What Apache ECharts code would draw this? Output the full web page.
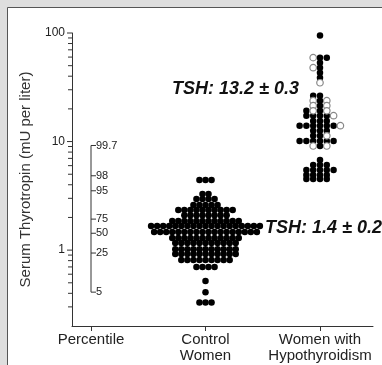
<!DOCTYPE html>
<html lang="en">
<head>
<meta charset="UTF-8" />
<title>Serum Thyrotropin</title>
<script src="https://cdn.jsdelivr.net/npm/echarts@6/dist/echarts.min.js"></script>
</head>
<body style="margin:0">
<div id="chart" style="width:382px;height:365px"></div>
<script>
// categories on the x axis (positions 0, 1, 2)
const categories = ['Percentile', 'Control\nWomen', 'Women with\nHypothyroidism'];
const yTickLabels = [1, 10, 100];

// control women: one row per bin -> TSH value, number of dots
const controlValues = [4.43, 3.29, 2.96, 2.60, 2.34, 2.10, 1.85, 1.67, 1.47, 1.29, 1.16, 1.02, 0.92, 0.81, 0.70, 0.52, 0.41, 0.33];
const controlCounts = [3, 2, 4, 5, 10, 8, 12, 19, 18, 12, 11, 11, 11, 9, 4, 1, 1, 3];

// women with hypothyroidism: F = filled dot, O = open dot, 7 slots centred on the category
const hypoValues = [94.6, 59.3, 53.3, 47.9, 43.1, 38.7, 34.8,
  26.4, 23.8, 21.4, 19.2, 17.3, 15.5, 14.0, 12.6, 11.3, 10.1, 9.1,
  6.78, 6.09, 5.48, 4.93, 4.52];
const hypoRows = ['...F...', '..OFF..', '...F...', '..OF...', '...F...', '...F...', '...O...',
  '..FF...', '..OFO..', '..OFO..', '.FOFO..', '.FFFFO.', '..FFF..', 'FFFFFFO', '..FFF..', '..FFO..', 'FFFFFF.', '..OFO..',
  '...F...', '..FFF..', '.FFFFF.', '.FFFF..', '.FFFF..'];

// percentile bracket
const percentileValues = [9.2, 4.84, 3.52, 1.93, 1.43, 0.94, 0.41];
const percentileLabels = ['99.7', '98', '95', '75', '50', '25', '5'];

const font = 'Liberation Sans';
const xMin = -0.166, xMax = 2.463;
const ctrlStep = 0.0528, hypoStep = 0.0594;

let controlData = [];
controlValues.forEach((v, i) => {
  let n = controlCounts[i];
  for (let j = 0; j < n; j++) controlData.push([1 + (j - (n - 1) / 2) * ctrlStep, v]);
});

let hypoFilled = [], hypoOpen = [];
hypoValues.forEach((v, i) => {
  hypoRows[i].split('').forEach((c, k) => {
    let pt = [2 + (k - 3) * hypoStep, v];
    if (c === 'F') hypoFilled.push(pt);
    if (c === 'O') hypoOpen.push(pt);
  });
});

// log axis ticks (majors + 2..9 minors)
let yTicks = [];
[0.1, 1, 10].forEach((d) => {
  for (let k = 1; k <= 9; k++) {
    let v = +(k * d).toFixed(3);
    if (v > 0.2 && v < 100) yTicks.push([xMin, v, k === 1 ? 1 : 0]);
  }
});
yTicks.push([xMin, 100, 1]);

let chart = echarts.init(document.getElementById('chart'));
chart.setOption({
  backgroundColor: '#dedede',
  animation: false,
  graphic: [
    { type: 'rect', z: -10, shape: { x: 7.5, y: 7.5, width: 400, height: 400 },
      style: { fill: '#fff', stroke: '#555', lineWidth: 1 } },
    { type: 'text', z: 100, left: 172, top: 80,
      style: { text: 'TSH: 13.2 \u00b1 0.3', font: 'italic bold 18px ' + font, fill: '#111' } },
    { type: 'text', z: 100, left: 265, top: 219,
      style: { text: 'TSH: 1.4 \u00b1 0.2', font: 'italic bold 18px ' + font, fill: '#111' } }
  ],
  grid: { left: 72, right: 9, top: 33, bottom: 39 },
  xAxis: {
    type: 'value', min: xMin, max: xMax,
    splitLine: { show: false },
    axisLine: { lineStyle: { color: '#333' } },
    axisTick: { customValues: [0, 1, 2], length: 5, lineStyle: { color: '#333' } },
    axisLabel: {
      customValues: [0, 1, 2],
      formatter: (v) => categories[Math.round(v)],
      fontFamily: font, fontSize: 15, color: '#222', lineHeight: 16, margin: 6
    }
  },
  yAxis: {
    type: 'log', logBase: 10, min: 0.2, max: 100,
    name: 'Serum Thyrotropin (mU per liter)',
    nameLocation: 'middle', nameGap: 39,
    nameTextStyle: { fontFamily: font, fontSize: 15, color: '#333' },
    splitLine: { show: false },
    axisLine: { show: true, onZero: false, lineStyle: { color: '#333' } },
    axisTick: { show: false },
    axisLabel: {
      fontFamily: font, fontSize: 12, color: '#222', margin: 7,
      formatter: (v) => (yTickLabels.includes(Math.round(v * 1000) / 1000) ? String(Math.round(v)) : '')
    }
  },
  series: [
    {
      type: 'custom', silent: true, clip: false, data: yTicks,
      renderItem: (params, api) => {
        let p = api.coord([api.value(0), api.value(1)]);
        let len = api.value(2) ? 5 : 4;
        return { type: 'line', shape: { x1: p[0] - len, y1: p[1], x2: p[0], y2: p[1] },
          style: { stroke: '#333', lineWidth: 1 } };
      }
    },
    {
      type: 'line', silent: true, symbol: 'none',
      data: [[0, percentileValues[0]], [0, percentileValues[percentileValues.length - 1]]],
      lineStyle: { color: '#333', width: 1 }
    },
    {
      type: 'custom', silent: true, clip: false,
      data: percentileValues.map((v) => [0, v]),
      renderItem: (params, api) => {
        let p = api.coord([api.value(0), api.value(1)]);
        return { type: 'group', children: [
          { type: 'line', shape: { x1: p[0], y1: p[1], x2: p[0] + 5, y2: p[1] },
            style: { stroke: '#333', lineWidth: 1 } },
          { type: 'text', x: p[0] + 5, y: p[1],
            style: { text: percentileLabels[params.dataIndex], fontFamily: font, fontSize: 11,
              fill: '#222', verticalAlign: 'middle' } }
        ] };
      }
    },
    {
      type: 'scatter', data: controlData, symbolSize: 6.5,
      itemStyle: { color: '#000', opacity: 1 }
    },
    {
      type: 'scatter', data: hypoFilled, symbolSize: 6.5,
      itemStyle: { color: '#000', opacity: 1 }
    },
    {
      type: 'scatter', data: hypoOpen, symbolSize: 6.5,
      itemStyle: { color: '#fff', borderColor: '#888', borderWidth: 1.2, opacity: 1 }
    }
  ]
});
</script>
</body>
</html>
